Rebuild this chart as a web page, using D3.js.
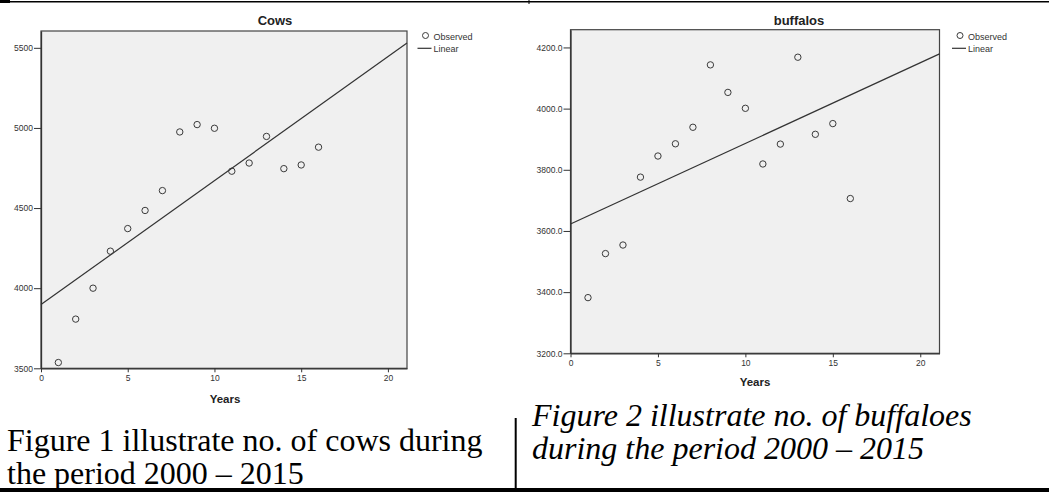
<!DOCTYPE html>
<html>
<head>
<meta charset="utf-8">
<script src="https://cdn.jsdelivr.net/npm/d3@7"></script>
<style>
  body { margin: 0; background: #fff; }
  svg { display: block; }
</style>
</head>
<body>
<div id="page"></div>
<script>
// data
var years = [1, 2, 3, 4, 5, 6, 7, 8, 9, 10, 11, 12, 13, 14, 15, 16];
var cows = [3536, 3807, 4000, 4231, 4372, 4485, 4609, 4975, 5021, 4998, 4730, 4781, 4947, 4746, 4769, 4880];
var buffalos = [3382, 3526, 3554, 3776, 3845, 3885, 3939, 4143, 4053, 4001, 3819, 3884, 4168, 3916, 3951, 3706];

var xTicks = [0, 5, 10, 15, 20];
var cowTicks = [3500, 4000, 4500, 5000, 5500];
var buffaloTicks = [3200, 3400, 3600, 3800, 4000, 4200];

var W = 1049, H = 494;
var sans = "'Liberation Sans', Arial, sans-serif";
var serif = "'Liberation Serif', 'Times New Roman', serif";

var svg = d3.select("#page")
  .append("svg")
  .attr("width", W)
  .attr("height", H);

// least squares line through the observed points
function linearFit(xs, ys) {
  var mx = d3.mean(xs), my = d3.mean(ys);
  var sxy = d3.sum(xs, function(d, i) { return (d - mx) * (ys[i] - my); });
  var sxx = d3.sum(xs, function(d) { return (d - mx) * (d - mx); });
  var b = sxy / sxx;
  return { a: my - b * mx, b: b };
}

function drawChart(c) {
  var g = svg.append("g");

  var x = d3.scaleLinear()
    .domain([0, 21.1])
    .range([c.left, c.right]);
  var y = d3.scaleLinear()
    .domain(c.yDomain)
    .range([c.bottom, c.top]);

  // plot area
  g.append("rect")
    .attr("x", c.left)
    .attr("y", c.top)
    .attr("width", c.right - c.left)
    .attr("height", c.bottom - c.top)
    .attr("fill", "#f0f0f0")
    .attr("stroke", "#444")
    .attr("stroke-width", 1.2);

  // X axis
  var xAxis = g.append("g")
    .attr("transform", "translate(0," + c.bottom + ")")
    .call(d3.axisBottom(x).tickValues(xTicks).tickSize(4).tickSizeOuter(0));
  // Y axis
  var yAxis = g.append("g")
    .attr("transform", "translate(" + c.left + ",0)")
    .call(d3.axisLeft(y).tickValues(c.yTicks).tickSize(7).tickPadding(1)
      .tickSizeOuter(0).tickFormat(d3.format(c.yFormat)));

  [xAxis, yAxis].forEach(function(a) {
    a.select(".domain").attr("stroke", "#333").attr("stroke-width", 1.3);
    a.selectAll(".tick line").attr("stroke", "#333");
    a.selectAll("text")
      .style("font-family", sans)
      .style("font-size", "8.5px")
      .attr("fill", "#333");
  });

  // fit line
  var fit = linearFit(years, c.values);
  var xd = x.domain();
  g.append("line")
    .attr("x1", x(xd[0]))
    .attr("y1", y(fit.a + fit.b * xd[0]))
    .attr("x2", x(xd[1]))
    .attr("y2", y(fit.a + fit.b * xd[1]))
    .attr("stroke", "#333")
    .attr("stroke-width", 1.2);

  // observed points
  g.selectAll("circle.obs")
    .data(c.values)
    .enter()
    .append("circle")
      .attr("class", "obs")
      .attr("cx", function(d, i) { return x(years[i]); })
      .attr("cy", function(d) { return y(d); })
      .attr("r", 3.2)
      .attr("fill", "none")
      .attr("stroke", "#3a3a3a")
      .attr("stroke-width", 1);

  // title
  g.append("text")
    .attr("x", c.titleX)
    .attr("y", 25)
    .attr("text-anchor", "middle")
    .style("font-family", sans)
    .style("font-weight", "bold")
    .style("font-size", "13px")
    .attr("fill", "#222")
    .text(c.title);

  // X axis label
  g.append("text")
    .attr("x", c.xLabelX)
    .attr("y", c.xLabelY)
    .attr("text-anchor", "middle")
    .style("font-family", sans)
    .style("font-weight", "bold")
    .style("font-size", "11.5px")
    .attr("fill", "#222")
    .text("Years");

  // legend
  g.append("circle")
    .attr("cx", c.legendX - 8)
    .attr("cy", 35.5)
    .attr("r", 3)
    .attr("fill", "none")
    .attr("stroke", "#3a3a3a");
  g.append("line")
    .attr("x1", c.legendX - 16)
    .attr("x2", c.legendX - 2)
    .attr("y1", 48.3)
    .attr("y2", 48.3)
    .attr("stroke", "#333")
    .attr("stroke-width", 1.2);
  g.selectAll("text.leg")
    .data(["Observed", "Linear"])
    .enter()
    .append("text")
      .attr("class", "leg")
      .attr("x", c.legendX)
      .attr("y", function(d, i) { return 39.5 + i * 12; })
      .style("font-family", sans)
      .style("font-size", "9px")
      .attr("fill", "#333")
      .text(function(d) { return d; });
}

drawChart({
  left: 41, right: 407, top: 31, bottom: 368.3,
  yDomain: [3500, 5605], yTicks: cowTicks, yFormat: "d",
  values: cows, title: "Cows", titleX: 275,
  xLabelX: 225, xLabelY: 403, legendX: 433.5
});

drawChart({
  left: 570.5, right: 939.5, top: 29.7, bottom: 353.3,
  yDomain: [3200, 4258], yTicks: buffaloTicks, yFormat: ".1f",
  values: buffalos, title: "buffalos", titleX: 799,
  xLabelX: 755, xLabelY: 386, legendX: 968
});

// table rules around the figures
svg.append("rect").attr("x", 0).attr("y", 1).attr("width", W).attr("height", 1.5).attr("fill", "#000");
svg.append("rect").attr("x", 0).attr("y", 0).attr("width", 10).attr("height", 3).attr("fill", "#000");
svg.append("rect").attr("x", 528.5).attr("y", 0).attr("width", 1).attr("height", 4).attr("fill", "#000");
svg.append("rect").attr("x", 514.7).attr("y", 418).attr("width", 2).attr("height", 71).attr("fill", "#000");
svg.append("rect").attr("x", 0).attr("y", 488).attr("width", W).attr("height", 4).attr("fill", "#000");

// captions
var cap1 = ["Figure 1 illustrate no. of cows during", "the period 2000 \u2013 2015"];
var cap2 = ["Figure 2 illustrate no. of buffaloes", "during the period 2000 \u2013 2015"];

svg.selectAll("text.cap1")
  .data(cap1)
  .enter()
  .append("text")
    .attr("class", "cap1")
    .attr("x", 7)
    .attr("y", function(d, i) { return 451 + i * 32.5; })
    .style("font-family", serif)
    .style("font-size", "32px")
    .attr("fill", "#000")
    .text(function(d) { return d; });

svg.selectAll("text.cap2")
  .data(cap2)
  .enter()
  .append("text")
    .attr("class", "cap2")
    .attr("x", 532)
    .attr("y", function(d, i) { return 426 + i * 33; })
    .style("font-family", serif)
    .style("font-style", "italic")
    .style("font-size", "32px")
    .attr("fill", "#000")
    .text(function(d) { return d; });
</script>
</body>
</html>
